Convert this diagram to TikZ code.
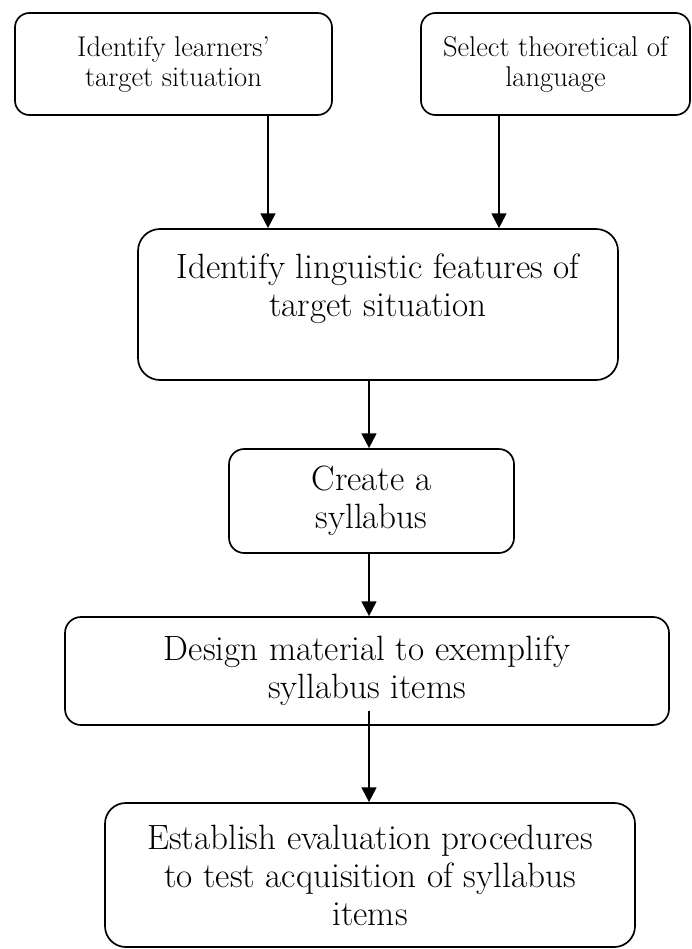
\documentclass[tikz,border=0pt]{standalone}
\usepackage{tikz}
\usetikzlibrary{arrows.meta}
\usetikzlibrary{positioning}
\usetikzlibrary{calc}

\begin{document}
\begin{tikzpicture}
  [
    stage/.style={
      draw,
      line width=1.2pt,
      align=center,
      inner sep=0pt
    },
    small/.style={
      stage,
      rounded corners=0.36cm,
      font=\fontsize{20.3pt}{21.3pt}\selectfont
    },
    big/.style={
      stage,
      font=\fontsize{25pt}{27pt}\selectfont
    },
    arr/.style={
      -{Triangle[length=10.5pt,width=10.5pt]},
      line width=1.4pt
    }
  ]
    \useasboundingbox (0,0) rectangle (17.3,-23.725);
    % top row
    \node [small,minimum width=7.925cm,minimum height=2.55cm] (learners) at (4.3375,-1.6) {Identify learners'\\target situation};
    \node [small,minimum width=6.725cm,minimum height=2.55cm] (theory) at (13.8875,-1.6) {Select theoretical of\\language};
    % main column
    \node [big,rounded corners=0.55cm,minimum width=12cm,minimum height=3.775cm] (features) at (9.45,-7.6125) {Identify linguistic features of\\target situation\\~};
    \node [big,rounded corners=0.38cm,minimum width=7.125cm,minimum height=2.6cm] (syllabus) at (9.2875,-12.525) {Create a\\syllabus};
    \node [big,rounded corners=0.4cm,minimum width=15.1cm,minimum height=2.7cm] (material) at (9.175,-16.775) {Design material to exemplify\\syllabus items};
    \node [big,rounded corners=0.52cm,minimum width=13.25cm,minimum height=3.6cm] (evaluation) at (9.25,-21.875) {Establish evaluation procedures\\to test acquisition of syllabus\\items};
    % arrows
    \coordinate (col) at (9.225,0);
    \coordinate (a1) at (6.7,0 |- learners.south);
    \coordinate (a2) at (12.475,0 |- theory.south);
    \draw [arr] (a1) -- (a1 |- features.north);
    \draw [arr] (a2) -- (a2 |- features.north);
    \draw [arr] (features.south -| col) -- (syllabus.north -| col);
    \draw [arr] (syllabus.south -| col) -- (material.north -| col);
    \coordinate (a5) at ([yshift=0.375cm]material.south -| col);
    \draw [arr] (a5) -- (a5 |- evaluation.north);
  \end{tikzpicture}
\end{document}
